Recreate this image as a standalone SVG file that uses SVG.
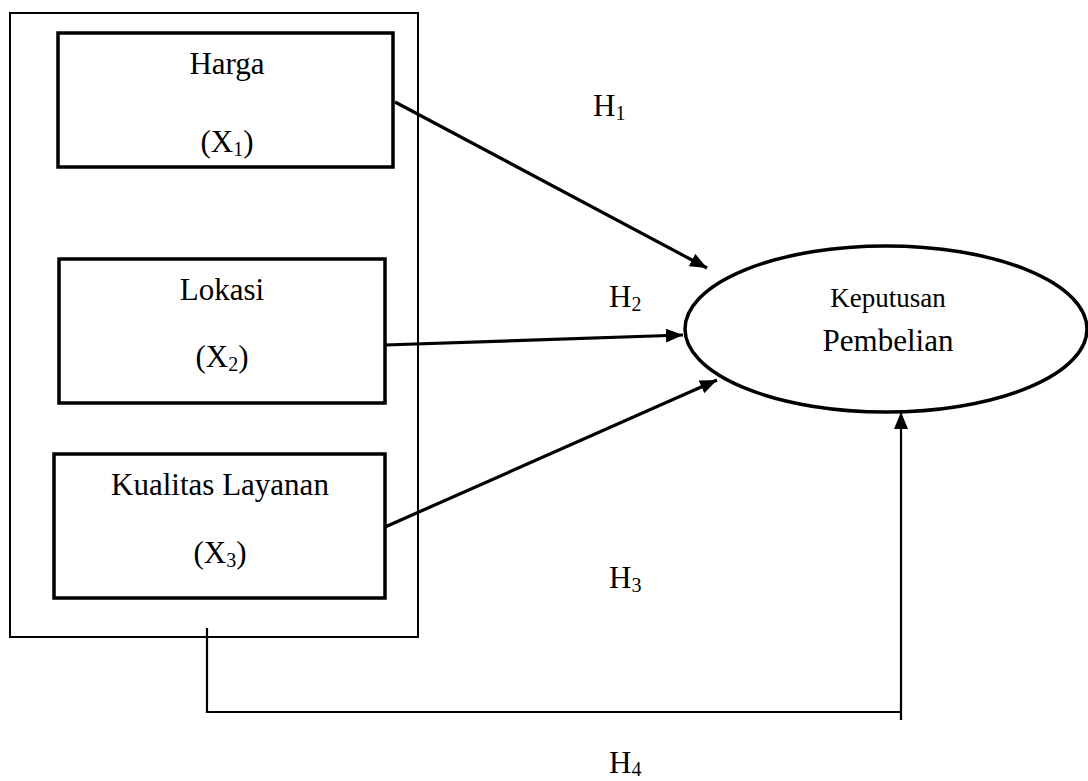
<svg xmlns="http://www.w3.org/2000/svg" width="1088" height="781" viewBox="0 0 1088 781">
<style>
.t{font-family:"Liberation Serif","Times New Roman",serif;fill:#000;text-anchor:middle}
.box{fill:#fff;stroke:#000;stroke-width:3.5}
.outer{fill:none;stroke:#000;stroke-width:2}
.con{fill:none;stroke:#000;stroke-width:3.2}
.thin{fill:none;stroke:#000;stroke-width:2.2}
.lbl{font-family:"Liberation Serif","Times New Roman",serif;fill:#000;font-size:31px}
</style>
<defs>
<marker id="ah" markerUnits="userSpaceOnUse" markerWidth="20" markerHeight="16" refX="17" refY="7" orient="auto">
<path d="M0,0 L17,7 L0,14 Z" fill="#000"/>
</marker>
</defs>
<rect id="frame" class="outer" x="10" y="13" width="408" height="624"/>
<g id="harga">
<rect class="box" x="58" y="33" width="335" height="134"/>
<text class="t" x="227" y="74" font-size="31">Harga</text>
<text class="t" x="227" y="152" font-size="31">(X<tspan font-size="20" dy="4">1</tspan><tspan dy="-4">)</tspan></text>
</g>
<g id="lokasi">
<rect class="box" x="59" y="259" width="326" height="144"/>
<text class="t" x="222" y="300" font-size="31">Lokasi</text>
<text class="t" x="222" y="367" font-size="31">(X<tspan font-size="20" dy="4">2</tspan><tspan dy="-4">)</tspan></text>
</g>
<g id="kualitas">
<rect class="box" x="54" y="454" width="331" height="144"/>
<text class="t" x="220" y="495" font-size="31">Kualitas Layanan</text>
<text class="t" x="220" y="563" font-size="31">(X<tspan font-size="20" dy="4">3</tspan><tspan dy="-4">)</tspan></text>
</g>
<g id="keputusan">
<ellipse cx="886" cy="329" rx="201" ry="83" fill="#fff" stroke="#000" stroke-width="3.5"/>
<text class="t" x="888" y="307" font-size="27">Keputusan</text>
<text class="t" x="888" y="351" font-size="31">Pembelian</text>
</g>
<g id="connectors">
<line class="con" x1="395" y1="102" x2="707" y2="268" marker-end="url(#ah)"/>
<line class="con" x1="385" y1="345" x2="683" y2="335" marker-end="url(#ah)"/>
<line class="con" x1="385" y1="527" x2="717" y2="380" marker-end="url(#ah)"/>
<polyline class="thin" points="207,628 207,712 901,712"/>
<line class="thin" x1="901" y1="720" x2="901" y2="412" marker-end="url(#ah)"/>
</g>
<g id="labels">
<text class="lbl" x="593" y="116">H<tspan font-size="20" dy="4">1</tspan></text>
<text class="lbl" x="609" y="307">H<tspan font-size="20" dy="4">2</tspan></text>
<text class="lbl" x="609" y="588">H<tspan font-size="20" dy="4">3</tspan></text>
<text class="lbl" x="609" y="773">H<tspan font-size="20" dy="3">4</tspan></text>
</g>
</svg>
